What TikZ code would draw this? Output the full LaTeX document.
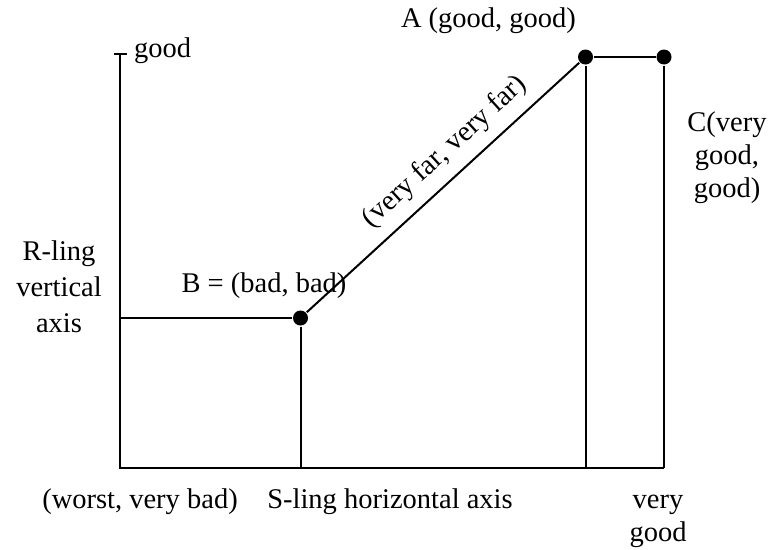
\documentclass[tikz,border=0pt]{standalone}
\usepackage{fontspec}
\setmainfont{Liberation Serif}
\begin{document}
\begin{tikzpicture}[x=1pt,y=-1pt, line width=2pt,
  dot/.style={circle, fill=black, inner sep=0pt, minimum size=15pt},
  lbl/.style={inner sep=0pt, font=\fontsize{28.5}{33}\selectfont, align=center, anchor=base}]
\useasboundingbox (0,0) rectangle (773,549);
\coordinate (top) at (120,54);
\coordinate (O) at (120,468);
\coordinate (tl) at (113.5,54);
\coordinate (tr) at (126.5,54);
\node[dot] (B) at (300.5,318) {};
\node[dot] (A) at (585.5,57) {};
\node[dot] (C) at (664,57) {};
\coordinate (yB) at (O |- B);
\coordinate (xB) at (B |- O);
\coordinate (xA) at (A |- O);
\coordinate (xC) at (C |- O);
% axes
\draw (top) -- (O) -- (xC);
\draw (tl) -- (tr);
% guides
\draw (yB) -- (B);
\draw (B) -- (xB);
\draw (B) -- (A);
\draw (A) -- (xA);
\draw (A) -- (C);
\draw (C) -- (xC);
% labels
\node[lbl, anchor=base west] (lgood) at (133,57) {good};
\node[lbl] (lA) at (488.5,27) {A (good, good)};
\node[lbl] (lC) at (727,197) {C(very\\good,\\good)};
\node[lbl, font=\fontsize{28.5}{36}\selectfont] (lR) at (59,332) {R-ling\\vertical\\axis};
\node[lbl] (lB) at (264,292) {B = (bad, bad)};
\node[lbl] (lW) at (140,508) {(worst, very bad)};
\node[lbl] (lS) at (390,508) {S-ling horizontal axis};
\node[lbl] (lV) at (658,541) {very\\good};
\node[lbl, anchor=center, rotate=42.5] (lF) at (445,152) {(very far, very far)};
\end{tikzpicture}
\end{document}
